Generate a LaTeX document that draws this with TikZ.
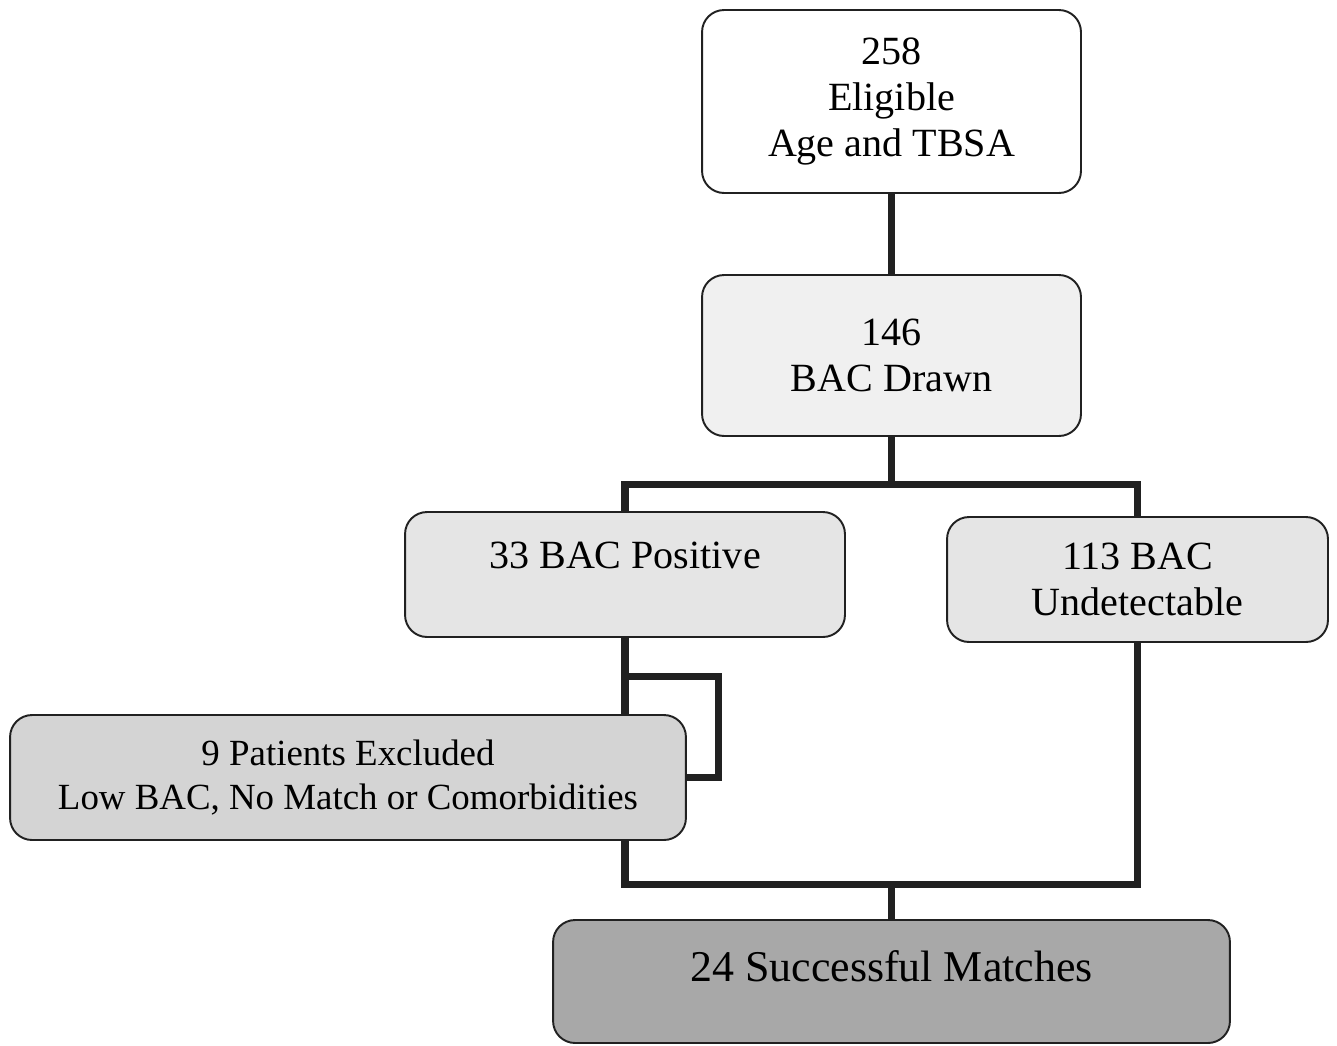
\documentclass[tikz,border=0pt]{standalone}
\usepackage{fontspec}
\setmainfont{Liberation Serif}
\usepackage{xcolor}
\usetikzlibrary{positioning,calc}

\begin{document}
\begin{tikzpicture}[x=0.02cm, y=-0.02cm,
            box/.style={rectangle, rounded corners=0.44cm, draw=black!87, line width=1.1pt, fill=#1, align=center, font=\fontsize{22.8}{26.2}\selectfont},
            link/.style={line width=4pt, draw=black!87}]
            \useasboundingbox (0,0) rectangle (1337,1045);

            % Boxes
            \node[box=white, minimum width=7.58cm, minimum height=3.66cm] (elig) at (891.5,101.5) {258\\Eligible\\Age and TBSA};
            \node[box=black!6, minimum width=7.58cm, minimum height=3.22cm] (drawn) at (891.5,355.5) {146\\BAC Drawn};
            \node[box=black!10, minimum width=8.8cm, minimum height=2.5cm, text depth=0.76cm] (pos) at (625,574.5) {33 BAC Positive};
            \node[box=black!10, minimum width=7.62cm, minimum height=2.5cm] (undet) at (1137.5,579.5) {113 BAC\\Undetectable};
            \node[box=black!17, minimum width=13.52cm, minimum height=2.5cm, font=\fontsize{21}{24.6}\selectfont] (excl) at (348,777.5) {9 Patients Excluded\\Low BAC, No Match or Comorbidities};
            \node[box=black!34, minimum width=13.54cm, minimum height=2.46cm, text depth=0.6cm, font=\fontsize{25}{29}\selectfont] (match) at (891.5,981.5) {24 Successful Matches};

            % Junction points
            \coordinate (split) at ($(drawn.south)+(0,48)$);
            \coordinate (loop) at (718.5,676.5);
            \coordinate (join) at ($(match.north)+(0,-35)$);

            % Connections
            \draw[link] (elig) -- (drawn);
            \draw[link] (drawn.south) -- (split) -| (pos.north);
            \draw[link] (split) -| (undet.north);

            \draw[link] (pos.south) -- (pos.south |- excl.north);
            \draw[link] (pos.south |- loop) -- (loop) |- (excl.east);

            \draw[link] (pos.south |- excl.south) |- (join) -- (match.north);
            \draw[link] (undet.south) |- (join);
        \end{tikzpicture}
\end{document}
